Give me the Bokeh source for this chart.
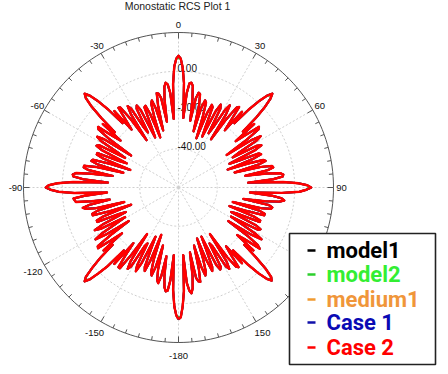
import math
from bokeh.plotting import figure
from bokeh.models import Range1d
from bokeh.core.properties import value
from bokeh.embed import file_html
from bokeh.resources import INLINE

# ---------------- data ----------------
angles_deg = list(range(-180, 180))  # 1 degree steps

# Case 2 RCS (dBsm), by quadrant
case2_q3 = [8, 6, 1.5, -7, -25, -12, -6.5, -6, -8, -13.5,
            -24, -13.5, -9.5, -11, -16.5, -29, -17.5, -12.5, -14.5, -21,
            -34, -19.5, -13.5, -15.5, -25, -32, -16.5, -11.5, -14.5, -27,
            -25, -12.5, -10.5, -14.5, -31, -17.5, -8.5, -8.5, -15.5, -23,
            -8.5, -17, -5.5, 0.5, 6, 8.5, 6.5, 1, -5.5, -15,
            -9.5, -22.5, -15.5, -8, -8.5, -17.5, -29, -15.5, -9.5, -13.5,
            -23, -28.5, -14.5, -11.5, -16.5, -30, -26.5, -14.5, -14.5, -18.5,
            -34, -22.5, -13.5, -13.5, -16.5, -31, -15.5, -11, -9.5, -13.5,
            -24, -14.5, -6.5, -6, -5.5, -11.5, -23, -6, 2, 6]                 # -180..-91
case2_q4 = [8.5, 7, 2.5, -5.5, -23.5, -10.5, -5.5, -5, -6.5, -14.5,
            -25.5, -12.5, -10, -10, -16.5, -30.5, -16.5, -13, -13.5, -22.5,
            -33.5, -18.5, -14.5, -14.5, -26.5, -30.5, -16, -12.5, -13.5, -28.5,
            -23.5, -13, -10.5, -14.5, -30.5, -16.5, -9, -8, -16.5, -21.5,
            -9, -16.5, -6.5, 1.5, 6.5, 8.5, 6, 1, -6, -16,
            -8.5, -21.5, -16, -8.5, -9, -16.5, -30.5, -15, -10.5, -12.5,
            -24.5, -27.5, -14, -12.5, -15.5, -31.5, -25.5, -15, -14.5, -19.5,
            -32.5, -22, -14.5, -13, -17.5, -29.5, -16.5, -10, -10.5, -13,
            -25.5, -14, -7.5, -5.5, -6.5, -11, -24.5, -6.5, 2.5, 6.5]        # -90..-1
case2_q1 = [8, 6.5, 2, -6, -24, -11, -6, -5.5, -7, -14,
            -25, -13, -10, -10.5, -16, -30, -17, -13, -14, -22,
            -33, -19, -14, -15, -26, -31, -16, -12, -14, -28,
            -24, -13, -10, -15, -30, -17, -9, -8, -16, -22,
            -9, -16, -6, 1, 6, 8.5, 6, 1, -6, -16,
            -9, -22, -16, -8, -9, -17, -30, -15, -10, -13,
            -24, -28, -14, -12, -16, -31, -26, -15, -14, -19,
            -33, -22, -14, -13, -17, -30, -16, -10.5, -10, -13,
            -25, -14, -7, -5.5, -6, -11, -24, -6, 2, 6.5]                   # 0..89
case2_q2 = [8.5, 6, 2.5, -6.5, -23, -11.5, -6.5, -5, -7.5, -15,
            -26, -12.5, -10.5, -11, -15.5, -31, -16.5, -13.5, -13.5, -23,
            -32, -18.5, -14.5, -14.5, -27, -30, -15.5, -12.5, -13.5, -29,
            -23, -13.5, -9.5, -15.5, -29, -16.5, -9.5, -7.5, -16.5, -21,
            -9.5, -15, -6.5, 1.5, 6.5, 8, 5.5, 0.5, -6.5, -17,
            -9, -21, -16.5, -8.5, -9.5, -16, -31, -14.5, -10.5, -12.5,
            -25, -27, -13.5, -12.5, -15.5, -32, -25, -15.5, -13.5, -20,
            -32, -21, -14.5, -12.5, -17.5, -29, -16.5, -10, -10.5, -12.5,
            -26, -13.5, -7.5, -5, -6.5, -10.5, -25, -6.5, 1.5, 7]            # 90..179
case2_db = case2_q3 + case2_q4 + case2_q1 + case2_q2

# model2 differs slightly from the others at these angles
model2_diff_angles = [-180, -135, -90, -45, 0, 45, 90, 135,
                      -176, -94, -86, -4, 4, 86, 94, 176,
                      10, 15, 20, 25, 34, 56, 65, 70, 75, 80,
                      100, 105, 110, 115, 124, 146, 155, 160, 165, 170,
                      -170, -165, -160, -155, -146, -124, -115, -110, -105, -100,
                      -80, -75, -70, -65, -56, -34, -25, -20, -15, -10]
model2_diff_db = [6.5, 7, 7, 7, 6.5, 7, 7, 6.5,
                  -21, -19, -19, -20, -20, -20, -19, -21,
                  -21, -26, -28, -27, -26, -26, -27, -28, -26, -21,
                  -22, -27, -28, -26, -25, -27, -28, -28, -25, -22,
                  -20, -25, -29, -28, -27, -25, -26, -29, -27, -20,
                  -21, -26, -29, -26, -26, -26, -27, -28, -25, -21]

series_names = ["model1", "model2", "medium1", "Case 1", "Case 2"]
series_colors = ["#000000", "#2ccf2c", "#f09a30", "#1010aa", "#ff0000"]
legend_text_colors = ["#000000", "#33ee33", "#f0963a", "#0a0ab4", "#ff0000"]

radial_ticks_db = [-40, -20, 0]
radial_tick_labels = ["-40.00", "-20.00", "0.00"]
angle_ticks = [0, 30, 60, 90, 120, 150, 180, -150, -120, -90, -60, -30]
angle_tick_labels = ["0", "30", "60", "90", "120", "150", "-180", "-150", "-120", "-90", "-60", "-30"]

title_text = "Monostatic RCS Plot 1"
DB_MIN, DB_MAX = -60, 20
R_OUT = 155.0

# ---------------- helpers ----------------
def rad(db):
    return (db - DB_MIN) / (DB_MAX - DB_MIN) * R_OUT

def polar_xy(ang_list, db_list):
    xs, ys = [], []
    for a, d in zip(ang_list, db_list):
        r = rad(d)
        t = math.radians(a)
        xs.append(r * math.sin(t))
        ys.append(r * math.cos(t))
    xs.append(xs[0]); ys.append(ys[0])
    return xs, ys

model2_db = list(case2_db)
for a, d in zip(model2_diff_angles, model2_diff_db):
    model2_db[angles_deg.index(a)] = d
series_db = [case2_db, model2_db, case2_db, case2_db, case2_db]
series_width = [2.0, 1.4, 2.0, 2.0, 2.4]

# ---------------- figure ----------------
p = figure(width=440, height=366, x_range=Range1d(-178, 262), y_range=Range1d(-179, 187),
           output_backend="svg", toolbar_location=None, min_border=0)
p.axis.visible = False
p.grid.visible = False
p.outline_line_color = None
p.background_fill_color = "white"

circ = [i for i in range(0, 361, 2)]
for d in radial_ticks_db:
    r = rad(d)
    p.line([r * math.sin(math.radians(a)) for a in circ],
           [r * math.cos(math.radians(a)) for a in circ],
           line_color="#cfcfcf", line_width=1, line_dash="2 2")
sx0, sy0, sx1, sy1 = [], [], [], []
for a in angle_ticks:
    t = math.radians(a)
    sx0.append(0); sy0.append(0)
    sx1.append(R_OUT * math.sin(t)); sy1.append(R_OUT * math.cos(t))
p.segment(sx0, sy0, sx1, sy1, line_color="#cfcfcf", line_width=1, line_dash="2 2")

p.line([R_OUT * math.sin(math.radians(a)) for a in circ],
       [R_OUT * math.cos(math.radians(a)) for a in circ],
       line_color="#555555", line_width=1)
tx0, ty0, tx1, ty1 = [], [], [], []
for a in range(0, 360, 5):
    t = math.radians(a)
    L = 6 if a % 30 == 0 else 4
    tx0.append(R_OUT * math.sin(t)); ty0.append(R_OUT * math.cos(t))
    tx1.append((R_OUT - L) * math.sin(t)); ty1.append((R_OUT - L) * math.cos(t))
p.segment(tx0, ty0, tx1, ty1, line_color="#555555", line_width=1)

p.text(x=[-1] * 3, y=[rad(d) + 3 for d in radial_ticks_db], text=radial_tick_labels,
       text_font=value("Liberation Sans"), text_font_size="10px", text_color="#111111",
       text_align="left", text_baseline="middle")

for name, dbs, col, w in zip(series_names, series_db, series_colors, series_width):
    xs, ys = polar_xy(angles_deg, dbs)
    p.line(xs, ys, line_color=col, line_width=w, line_join="round")

lx, ly = [], []
for a in angle_ticks:
    t = math.radians(a)
    r = 163 if abs(a) <= 90 else 168
    lx.append(r * math.sin(t)); ly.append(r * math.cos(t))
p.text(x=lx, y=ly, text=angle_tick_labels, text_font=value("Liberation Sans"),
       text_font_size="9.5px", text_color="#111111", text_align="center", text_baseline="middle")

p.text(x=[-1], y=[182], text=[title_text], text_font=value("Liberation Sans"),
       text_font_size="10.5px", text_color="#222222", text_align="center", text_baseline="middle")

# legend box
p.quad(left=[111], right=[257], top=[-46], bottom=[-177], fill_color="white",
       line_color="#222222", line_width=1.6)
row_y = [-63, -87, -112, -135, -160]
p.segment([129] * 5, row_y, [137] * 5, row_y, line_color=series_colors, line_width=2.5)
p.text(x=[148] * 5, y=row_y, text=series_names, text_color=legend_text_colors,
       text_font=value("Roboto"), text_font_style="bold",
       text_font_size="22px", text_align="left", text_baseline="middle")

open("out.html", "w").write(file_html(p, INLINE))
